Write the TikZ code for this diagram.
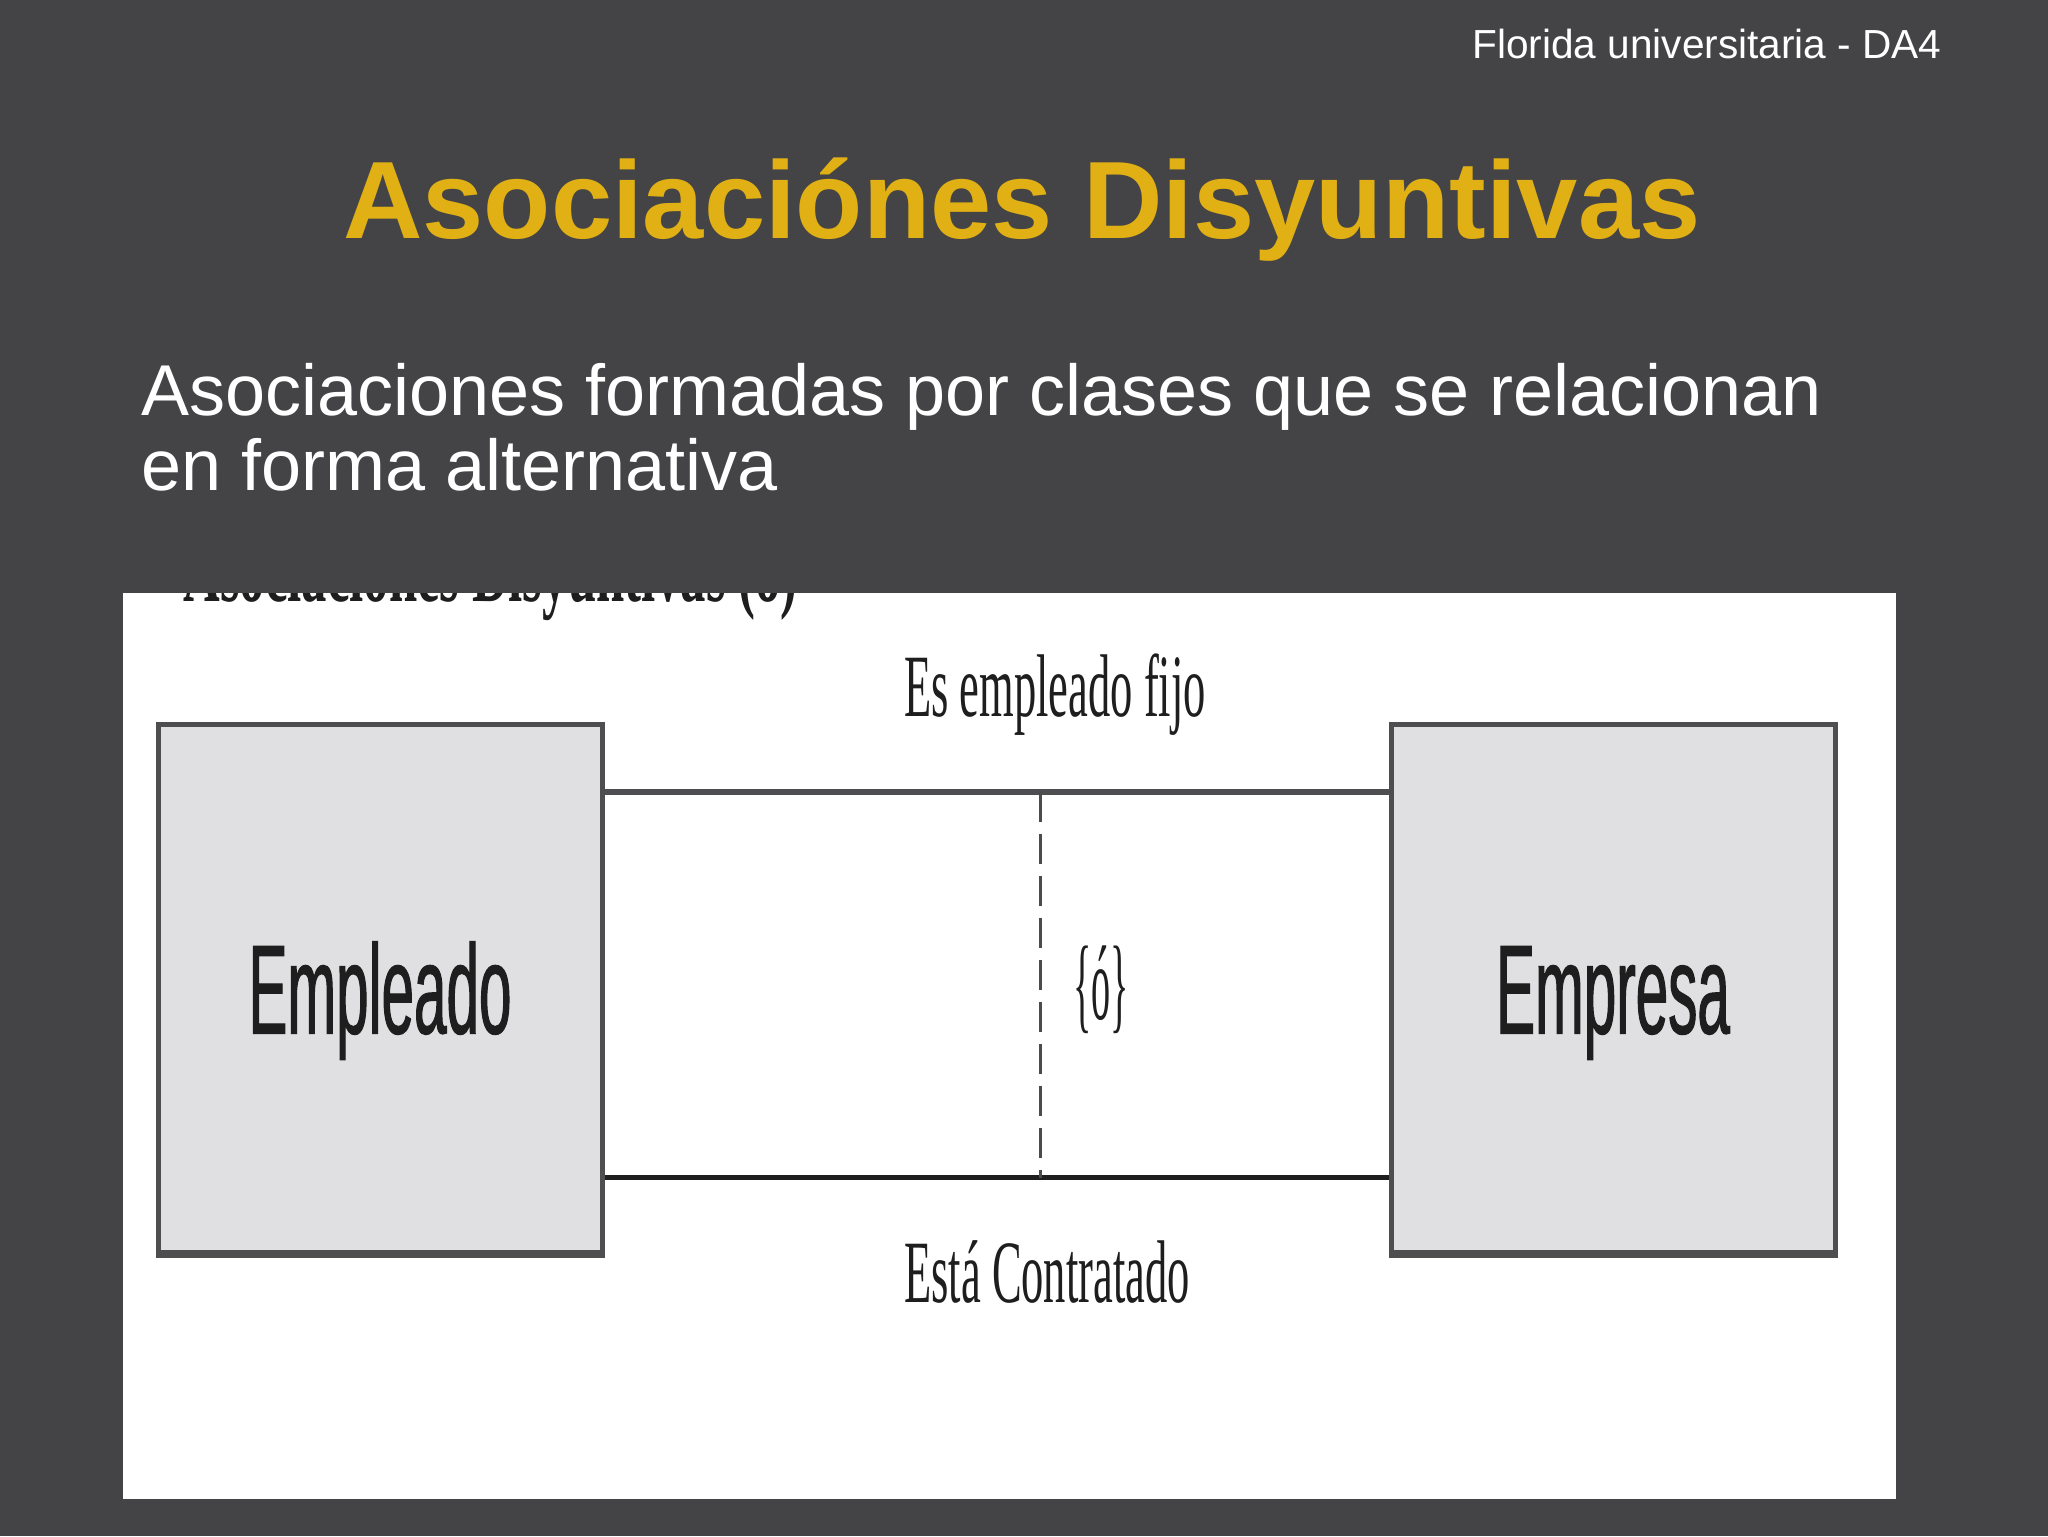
\documentclass[tikz,border=0pt]{standalone}
\usepackage{fontspec}
\setmainfont{Liberation Sans}
\newfontfamily\boxfont[FakeStretch=0.46,FakeBold=0.8]{Liberation Sans}
\newfontfamily\labfont[FakeStretch=0.5]{Liberation Serif}
\newfontfamily\orfont[FakeStretch=0.36]{Liberation Serif}
\newfontfamily\capfont[FakeStretch=0.57]{Liberation Serif}
\usetikzlibrary{positioning}

\definecolor{slidebg}{RGB}{68,67,70}
\definecolor{titlegold}{RGB}{224,176,20}
\definecolor{boxfill}{RGB}{224,223,226}
\definecolor{boxline}{RGB}{78,78,80}
\definecolor{inkgray}{RGB}{30,30,30}

\begin{document}
\begin{tikzpicture}[
x=0.5pt, y=-0.5pt,
every node/.style={inner sep=0pt},
class box/.style={draw=boxline, fill=boxfill, line width=2.5pt, minimum width=222pt, minimum height=264pt,
  font=\boxfont\fontsize{63.5}{70}\selectfont, text=inkgray, text height=45.5pt, text depth=0pt},
assoc line/.style={line width=2.5pt, draw=inkgray},
alt line/.style={line width=1.5pt, draw=inkgray!80, dash pattern=on 15pt off 6pt},
assoc label/.style={font=\labfont\fontsize{44.5}{50}\selectfont, text=inkgray, anchor=base},
]

% Slide background
\fill[slidebg] (0,0) rectangle (2048,1536);
\useasboundingbox (0,0) rectangle (2048,1536);

% Header and title
\node[anchor=base east, text=white, font=\fontsize{20.3}{24}\selectfont] (header) at (1942,59) {Florida universitaria - DA4};
\node[anchor=base, text=titlegold, font=\bfseries\fontsize{55}{60}\selectfont] (title) at (1022,238) {Asociaciónes Disyuntivas};

% Intro text
\node[anchor=base west, text=white, font=\fontsize{36}{40}\selectfont] (intro1) at (141,415) {Asociaciones formadas por clases que se relacionan};
\node[anchor=base west, text=white, font=\fontsize{36}{40}\selectfont] (intro2) at (141,490) {en forma alternativa};

% Picture area, caption cut off at the top
\fill[white] (123,593) rectangle (1896,1499);
\begin{scope}
\clip (123,593) rectangle (1896,1499);
\node[anchor=base west, text=inkgray, font=\capfont\bfseries\fontsize{44.5}{50}\selectfont] (caption) at (183,601) {Asociaciones Disyuntivas (ó)};
\end{scope}

% Classes
\node[class box] (empleado) at (380,988) {Empleado};
\node[class box, right=392pt of empleado] (empresa) {Empresa};
\draw[boxline, line width=4pt] ([yshift=0.5pt]empleado.south west) -- ([yshift=0.5pt]empleado.south east);
\draw[boxline, line width=4pt] ([yshift=0.5pt]empresa.south west) -- ([yshift=0.5pt]empresa.south east);

% Associations
\draw[assoc line, draw=boxline, line width=3pt] ([yshift=-35pt]empleado.north east) -- coordinate[pos=0.556] (alt top) ([yshift=-35pt]empresa.north west);
\draw[assoc line] ([yshift=38.5pt]empleado.south east) -- coordinate[pos=0.556] (alt bottom) ([yshift=38.5pt]empresa.south west);
\draw[alt line] (alt top) -- (alt bottom);

% Labels
\node[assoc label] (fijo) at (1055,716) {Es empleado fijo};
\node[assoc label] (contratado) at (1047,1302) {Está Contratado};
\node[font=\orfont\fontsize{53}{60}\selectfont, text=inkgray] (or) at (1101,990) {\{ó\}};
\end{tikzpicture}
\end{document}
